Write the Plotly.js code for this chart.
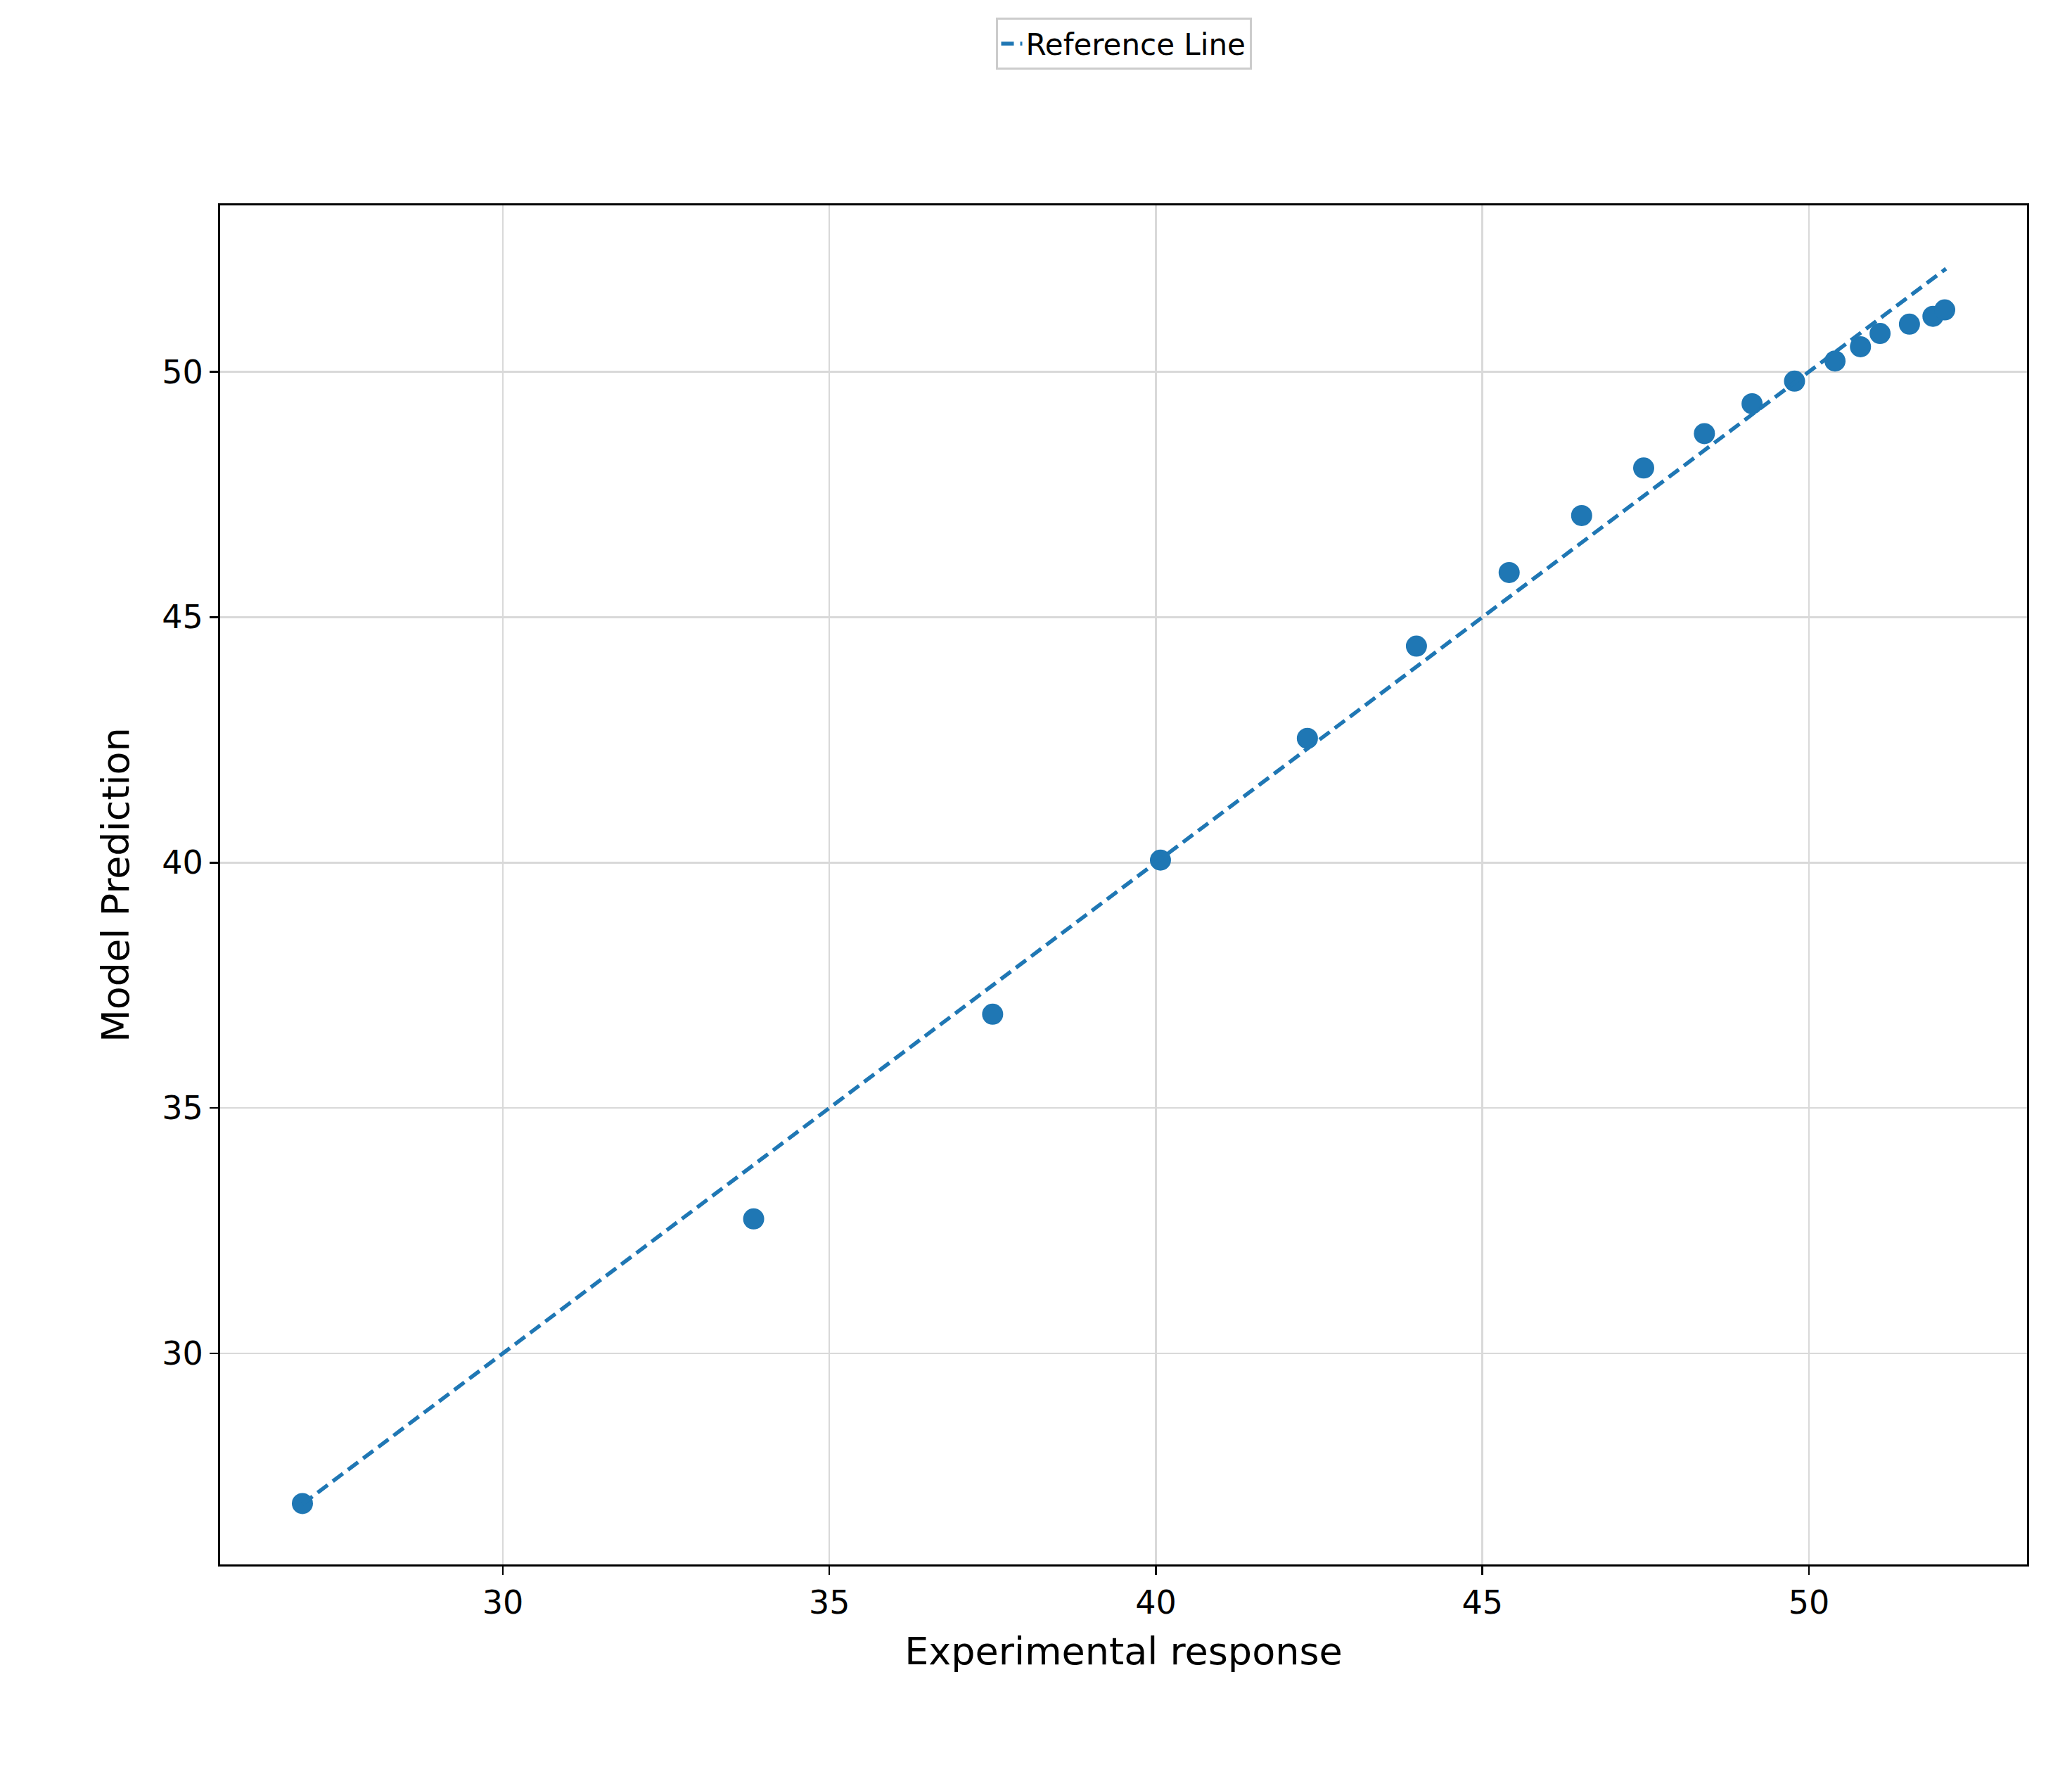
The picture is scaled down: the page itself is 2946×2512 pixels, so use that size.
<!DOCTYPE html>
<html>
<head>
<meta charset="utf-8">
<script src="https://cdn.plot.ly/plotly-3.0.1.min.js"></script>
<style>
  html, body { margin: 0; padding: 0; background: #fff; }
  #chart { width: 2946px; height: 2512px; }
</style>
</head>
<body>
<div id="chart"></div>
<script>
const experimental = [26.93, 33.84, 37.50, 40.07, 42.32, 43.99, 45.41, 46.52, 47.47, 48.40,
  49.13, 49.78, 50.40, 50.79, 51.09, 51.54, 51.90, 52.08];
const predicted = [26.94, 32.74, 36.91, 40.05, 42.53, 44.41, 45.91, 47.07, 48.04, 48.74,
  49.35, 49.81, 50.22, 50.51, 50.78, 50.97, 51.13, 51.26];
const refLine = [26.93, 52.1];

const blue = '#1f77b4';

const traces = [
  {
    x: experimental,
    y: predicted,
    mode: 'markers',
    type: 'scatter',
    marker: { color: blue, size: 30 },
    showlegend: false,
  },
  {
    x: refLine,
    y: refLine,
    mode: 'lines',
    type: 'scatter',
    name: 'Reference Line',
    line: { color: blue, width: 5.5, dash: '18px,9px' },
  },
];

const axisCommon = {
  showline: true,
  mirror: true,
  linecolor: '#000',
  linewidth: 3,
  ticks: 'outside',
  ticklen: 12,
  tickwidth: 2.5,
  tickcolor: '#000',
  showgrid: true,
  gridcolor: '#d9d9d9',
  gridwidth: 2.5,
  zeroline: false,
  tickfont: { size: 46, color: '#000' },
  dtick: 5,
};

const layout = {
  width: 2946,
  height: 2512,
  paper_bgcolor: '#fff',
  plot_bgcolor: '#fff',
  font: { family: 'DejaVu Sans, sans-serif', color: '#000' },
  margin: { l: 313, r: 64, t: 292, b: 288 },
  xaxis: Object.assign({}, axisCommon, {
    range: [25.67, 53.34],
    title: { text: 'Experimental response', font: { size: 54 }, standoff: 24 },
  }),
  yaxis: Object.assign({}, axisCommon, {
    range: [25.70, 53.39],
    title: { text: 'Model Prediction', font: { size: 54 }, standoff: 30 },
  }),
  showlegend: true,
  legend: {
    x: 0.5, xref: 'paper', xanchor: 'center',
    y: 0.99, yref: 'container', yanchor: 'top',
    orientation: 'h',
    bordercolor: '#ccc',
    borderwidth: 3,
    font: { size: 42 },
  },
};

Plotly.newPlot('chart', traces, layout, { staticPlot: true });
</script>
</body>
</html>
